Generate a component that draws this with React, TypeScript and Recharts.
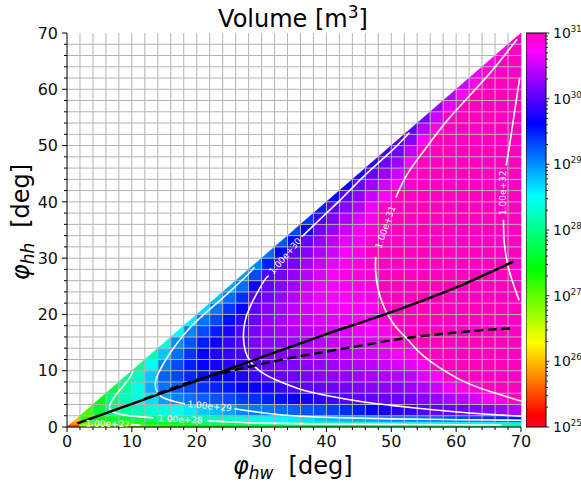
import React from 'react';
import {
  ComposedChart,
  XAxis,
  YAxis,
  Line,
  Scatter,
  ReferenceArea,
  ReferenceLine
} from 'recharts';

const FONT = '"DejaVu Sans", sans-serif';

// axis ticks (deg) - every 2 deg minor, every 10 deg major
const degTicks = [0, 2, 4, 6, 8, 10, 12, 14, 16, 18, 20, 22, 24, 26, 28, 30, 32, 34, 36, 38, 40, 42, 44, 46, 48, 50, 52, 54, 56, 58, 60, 62, 64, 66, 68, 70];
const gridLines = [2, 4, 6, 8, 10, 12, 14, 16, 18, 20, 22, 24, 26, 28, 30, 32, 34, 36, 38, 40, 42, 44, 46, 48, 50, 52, 54, 56, 58, 60, 62, 64, 66, 68];

// colorbar ticks : decades of the log norm (exponents) + minor mantissas
const cbExponents = [25, 26, 27, 28, 29, 30, 31];
const cbMinorMant = [2, 3, 4, 5, 6, 7, 8, 9];

// heat map cells : column edges (phi_hw) and row edges (phi_hh)
const colEdges = degTicks;
const rowEdges = [0, 0.5, 1, 2, 4, 6, 8, 10, 12, 14, 16, 18, 20, 22, 24, 26, 28, 30, 32, 34, 36, 38, 40, 42, 44, 46, 48, 50, 52, 54, 56, 58, 60, 62, 64, 66, 68, 70];

// log10(volume) per row, each row ends at phi_hw = 70
const logVolume: number[][] = [
  [25.5, 26.6, 26.8, 26.85, 26.9, 26.98, 27.1, 27.2, 27.25, 27.3, 27.35, 27.4, 27.45, 27.5, 27.55, 27.6, 27.65, 27.7, 27.72, 27.76, 27.78, 27.8, 27.82, 27.84, 27.85, 27.87, 27.88, 27.9, 27.9, 27.92, 27.93, 27.95, 27.97, 28.0, 28.03],
  [25.8, 27.0, 27.15, 27.2, 27.2, 27.25, 27.45, 27.5, 27.53, 27.65, 27.75, 27.8, 27.85, 27.9, 28.03, 28.07, 28.1, 28.12, 28.15, 28.18, 28.2, 28.22, 28.25, 28.27, 28.3, 28.33, 28.35, 28.37, 28.38, 28.4, 28.42, 28.45, 28.5, 28.55, 28.6],
  [26.0, 27.2, 27.45, 27.55, 27.6, 27.75, 27.9, 27.97, 28.03, 28.08, 28.15, 28.2, 28.25, 28.35, 28.42, 28.48, 28.55, 28.6, 28.65, 28.74, 28.8, 28.85, 28.9, 28.95, 29.05, 29.07, 29.1, 29.15, 29.2, 29.25, 29.3, 29.35, 29.4, 29.45, 29.5],
  [27.1, 27.65, 28.0, 28.1, 28.2, 28.35, 28.38, 28.5, 28.6, 28.73, 28.8, 28.9, 29.03, 29.1, 29.12, 29.15, 29.2, 29.25, 29.3, 29.35, 29.42, 29.5, 29.6, 29.72, 29.82, 29.87, 29.97, 30.03, 30.08, 30.1, 30.15, 30.2, 30.3, 30.4],
  [27.45, 27.95, 28.23, 28.42, 28.65, 28.92, 29.05, 29.12, 29.2, 29.25, 29.3, 29.38, 29.42, 29.48, 29.55, 29.62, 29.7, 29.8, 29.9, 29.98, 30.04, 30.06, 30.08, 30.1, 30.12, 30.2, 30.3, 30.4, 30.45, 30.55, 30.7, 30.85, 31.03],
  [27.75, 28.1, 28.42, 28.85, 29.12, 29.22, 29.32, 29.42, 29.47, 29.52, 29.6, 29.65, 29.72, 29.85, 29.97, 30.04, 30.07, 30.1, 30.13, 30.18, 30.22, 30.25, 30.25, 30.3, 30.4, 30.5, 30.65, 30.8, 30.9, 31.05, 31.2, 31.3],
  [27.95, 28.25, 28.75, 29.2, 29.33, 29.45, 29.55, 29.62, 29.68, 29.75, 29.85, 29.98, 30.05, 30.1, 30.15, 30.2, 30.23, 30.26, 30.3, 30.34, 30.38, 30.4, 30.45, 30.6, 30.73, 30.95, 31.05, 31.1, 31.25, 31.4, 31.5],
  [28.05, 28.45, 29.07, 29.3, 29.5, 29.63, 29.72, 29.8, 29.87, 30.01, 30.08, 30.13, 30.18, 30.23, 30.28, 30.32, 30.36, 30.4, 30.44, 30.5, 30.55, 30.62, 30.8, 30.97, 31.1, 31.2, 31.25, 31.4, 31.55, 31.65],
  [28.2, 28.75, 29.15, 29.4, 29.62, 29.75, 29.86, 29.95, 30.1, 30.16, 30.2, 30.26, 30.3, 30.36, 30.4, 30.44, 30.48, 30.52, 30.6, 30.7, 30.8, 31.0, 31.1, 31.2, 31.3, 31.4, 31.5, 31.65, 31.75],
  [28.35, 29.0, 29.25, 29.5, 29.67, 29.85, 29.98, 30.15, 30.22, 30.27, 30.33, 30.37, 30.43, 30.47, 30.52, 30.56, 30.6, 30.7, 30.85, 31.0, 31.15, 31.2, 31.3, 31.4, 31.5, 31.6, 31.75, 31.85],
  [28.5, 29.05, 29.3, 29.5, 29.75, 29.95, 30.15, 30.25, 30.32, 30.39, 30.44, 30.5, 30.54, 30.59, 30.63, 30.67, 30.8, 30.99, 31.1, 31.25, 31.3, 31.4, 31.5, 31.6, 31.7, 31.85, 31.92],
  [28.6, 29.12, 29.3, 29.55, 29.82, 30.1, 30.25, 30.35, 30.44, 30.5, 30.56, 30.6, 30.65, 30.69, 30.73, 30.9, 31.05, 31.2, 31.35, 31.4, 31.5, 31.6, 31.7, 31.8, 31.92, 31.97],
  [28.7, 29.1, 29.38, 29.65, 30.05, 30.2, 30.33, 30.45, 30.54, 30.61, 30.66, 30.7, 30.74, 30.78, 30.98, 31.1, 31.3, 31.45, 31.5, 31.6, 31.7, 31.8, 31.88, 31.97, 32.02],
  [28.8, 29.15, 29.42, 30.0, 30.13, 30.27, 30.4, 30.55, 30.65, 30.7, 30.75, 30.79, 30.83, 31.03, 31.15, 31.35, 31.5, 31.55, 31.65, 31.75, 31.85, 31.93, 32.0, 32.06],
  [28.9, 29.15, 29.7, 30.05, 30.2, 30.33, 30.5, 30.63, 30.72, 30.78, 30.83, 30.88, 31.08, 31.2, 31.4, 31.5, 31.6, 31.7, 31.8, 31.9, 31.96, 32.02, 32.09],
  [28.95, 29.3, 29.97, 30.12, 30.25, 30.42, 30.56, 30.7, 30.8, 30.86, 30.92, 31.1, 31.2, 31.4, 31.5, 31.6, 31.7, 31.8, 31.9, 31.97, 32.02, 32.1],
  [29.05, 29.5, 30.02, 30.15, 30.32, 30.47, 30.63, 30.78, 30.87, 30.96, 31.1, 31.2, 31.4, 31.5, 31.6, 31.7, 31.8, 31.9, 31.96, 32.02, 32.1],
  [29.15, 29.6, 30.04, 30.2, 30.37, 30.53, 30.72, 30.85, 30.98, 31.1, 31.2, 31.35, 31.45, 31.55, 31.65, 31.75, 31.85, 31.93, 32.0, 32.08],
  [29.25, 29.65, 30.06, 30.25, 30.42, 30.62, 30.78, 30.96, 31.08, 31.15, 31.3, 31.4, 31.5, 31.6, 31.7, 31.8, 31.88, 31.97, 32.05],
  [29.3, 29.7, 30.12, 30.3, 30.5, 30.68, 30.9, 31.05, 31.1, 31.2, 31.35, 31.45, 31.55, 31.65, 31.75, 31.83, 31.93, 32.02],
  [29.4, 29.9, 30.17, 30.37, 30.55, 30.8, 31.02, 31.07, 31.15, 31.3, 31.4, 31.5, 31.6, 31.7, 31.78, 31.88, 31.98],
  [29.48, 30.02, 30.22, 30.4, 30.66, 30.98, 31.04, 31.08, 31.25, 31.35, 31.45, 31.55, 31.65, 31.72, 31.83, 31.93],
  [29.6, 30.05, 30.24, 30.5, 30.75, 31.01, 31.05, 31.2, 31.3, 31.4, 31.5, 31.6, 31.66, 31.77, 31.88],
  [29.7, 30.06, 30.32, 30.53, 30.75, 31.02, 31.15, 31.25, 31.35, 31.45, 31.55, 31.6, 31.71, 31.82],
  [29.75, 30.05, 30.3, 30.5, 30.95, 31.1, 31.2, 31.3, 31.4, 31.5, 31.54, 31.65, 31.76],
  [29.8, 30.08, 30.3, 30.7, 31.05, 31.15, 31.25, 31.35, 31.45, 31.48, 31.59, 31.7],
  [29.85, 30.1, 30.45, 30.99, 31.1, 31.2, 31.3, 31.4, 31.42, 31.53, 31.64],
  [29.95, 30.2, 30.7, 31.03, 31.15, 31.25, 31.35, 31.36, 31.47, 31.58],
  [30.02, 30.4, 30.85, 31.08, 31.2, 31.3, 31.3, 31.41, 31.52],
  [30.15, 30.5, 30.95, 31.1, 31.25, 31.24, 31.35, 31.46],
  [30.3, 30.63, 31.0, 31.2, 31.18, 31.29, 31.4],
  [30.4, 30.72, 31.05, 31.12, 31.23, 31.34],
  [30.5, 30.85, 31.1, 31.17, 31.28],
  [30.65, 30.95, 31.1, 31.2],
  [30.78, 31.0, 31.12],
  [30.9, 31.06],
  [30.98]
];

// contour lines (phi_hw, phi_hh), split where the inline labels sit
const contour27 = [[9.9, 0.42], [10.6, 0.38], [11.3, 0.33]];
const contour28a = [[10.2, 9.9], [9.5, 8.5], [8.6, 7.2], [7.6, 5.8], [6.9, 4.6], [6.55, 3.6], [6.8, 2.9], [7.6, 2.45], [9.0, 2.1], [11.0, 1.85], [13.3, 1.62]];
const contour28b = [[21.6, 1.08], [26, 0.86], [30.4, 0.68], [40, 0.53], [50, 0.46], [60, 0.41], [67, 0.36]];
const contour29a = [[28.9, 28.4], [27.8, 27.0], [25.8, 24.8], [23.7, 22.6], [21.3, 20.2], [19.1, 17.8], [17.0, 14.9], [15.2, 11.9], [14.0, 9.3], [13.6, 7.6], [14.0, 6.0], [15.2, 5.0], [17.0, 4.4], [18.2, 4.1]];
const contour29b = [[25.8, 3.25], [30.4, 2.5], [36, 1.9], [42, 1.65], [50, 1.45], [60, 1.3], [70, 1.2]];
const contour30a = [[52.8, 52.3], [50, 49.0], [46, 44.8], [42.1, 40.3], [39, 36.9], [36.2, 33.8]];
const contour30b = [[31.1, 26.9], [30.2, 25.6], [28.2, 21.3], [27.4, 18.5], [27.2, 16.0], [27.5, 13.5], [28.3, 11.6], [29.8, 9.9], [32, 8.5], [35.5, 6.9], [40, 5.6], [46, 4.4], [50, 3.85], [56, 3.1], [62, 2.5], [70, 1.9]];
const contour31a = [[69.4, 68.9], [64.7, 62.2], [59.1, 55.1], [55.5, 49.8], [52.6, 45.2], [50.7, 40.8]];
const contour31b = [[47.6, 30.2], [47.6, 27.5], [48.3, 23.1], [50.3, 18.4], [52.5, 15.6], [55, 12.6], [60.3, 8.6], [65, 6.4], [70, 4.6]];
const contour32a = [[69.8, 62], [69.0, 56], [68.3, 50.5], [67.7, 46.5]];
const contour32b = [[67.3, 36.8], [67.4, 33], [67.8, 29.7], [68.5, 26.5], [69.7, 22.5]];

const contourLabels = [
  { level: 27, x: 6.3, y: 0.55 },
  { level: 28, x: 17.5, y: 1.33 },
  { level: 29, x: 22.0, y: 3.7 },
  { level: 30, x: 33.65, y: 30.35 },
  { level: 31, x: 49.1, y: 35.5 },
  { level: 32, x: 67.3, y: 41.6 }
];
const labelAngle: Record<number, number> = { 27: 1, 28: 3, 29: 5.5, 30: -49.6, 31: -71, 32: -90 };

// black curves
const solidCurve = [[1.6, 0.65], [10, 4.1], [20, 8.2], [30, 12.4], [40, 16.5], [50, 20.4], [60, 24.8], [68.8, 29.4]];
const dashedCurve = [[12, 5.0], [20, 8.35], [25, 9.9], [30, 11.2], [35, 12.4], [40, 13.4], [45, 14.4], [50, 15.4], [55, 16.2], [60, 16.8], [65, 17.3], [68.3, 17.5]];

// gist_rainbow colormap anchors
const cmap: [number, number[]][] = [
  [0, [255, 0, 41]],
  [0.03, [255, 0, 0]],
  [0.215, [255, 255, 0]],
  [0.4, [0, 255, 0]],
  [0.586, [0, 255, 255]],
  [0.77, [0, 0, 255]],
  [0.954, [255, 0, 255]],
  [1, [255, 0, 191]]
];
const rgb = (c: number[]) => `rgb(${c.map(Math.round).join(',')})`;

function colorFor(logv: number) {
  const t = Math.max(0, Math.min(1, (logv - 25) / 6));
  for (let i = 1; i < cmap.length; i++) {
    if (t <= cmap[i][0]) {
      const [t0, c0] = cmap[i - 1];
      const [t1, c1] = cmap[i];
      const f = (t - t0) / (t1 - t0);
      return rgb(c0.map((v, k) => v + f * (c1[k] - v)));
    }
  }
  return rgb(cmap[cmap.length - 1][1]);
}

// keep the part of a cell below the diagonal phi_hh <= phi_hw
function clipBelowDiagonal(pts: number[][]) {
  const out: number[][] = [];
  for (let i = 0; i < pts.length; i++) {
    const a = pts[i];
    const b = pts[(i + 1) % pts.length];
    const da = a[0] - a[1];
    const db = b[0] - b[1];
    if (da >= 0) out.push(a);
    if ((da >= 0) !== (db >= 0)) {
      const t = da / (da - db);
      out.push([a[0] + t * (b[0] - a[0]), a[1] + t * (b[1] - a[1])]);
    }
  }
  return out;
}

const cellShape = (x1: number, x2: number, y1: number, y2: number, fill: string) => (p: any) => {
  const px = (v: number) => p.x + ((v - x1) / (x2 - x1)) * p.width;
  const py = (v: number) => p.y + ((y2 - v) / (y2 - y1)) * p.height;
  let pts = [[x1, y1], [x2, y1], [x2, y2], [x1, y2]];
  if (y2 > x1) pts = clipBelowDiagonal(pts);
  if (pts.length < 3) return <g />;
  return (
    <polygon
      points={pts.map(([a, b]) => `${px(a)},${py(b)}`).join(' ')}
      fill={fill}
      stroke={fill}
      strokeWidth={0.6}
    />
  );
};

const cells: any[] = [];
logVolume.forEach((row, r) => {
  const start = colEdges.length - 1 - row.length;
  row.forEach((v, k) => {
    const c = start + k;
    cells.push({ x1: colEdges[c], x2: colEdges[c + 1], y1: rowEdges[r], y2: rowEdges[r + 1], v });
  });
});

const toPts = (arr: number[][]) => arr.map(([x, y]) => ({ x, y }));

const contourPieces = [contour27, contour28a, contour28b, contour29a, contour29b, contour30a, contour30b, contour31a, contour31b, contour32a, contour32b];

const XTick = (props: any) => {
  const { x, y, payload } = props;
  const v = payload.value;
  const major = v % 10 === 0;
  const y0 = y - 8;
  return (
    <g>
      <line x1={x} x2={x} y1={y0} y2={y0 + (major ? 5 : 3)} stroke="#000" strokeWidth={1} />
      {major && (
        <text x={x} y={y} dy="0.73em" textAnchor="middle" fontSize={16} fontFamily={FONT} fill="#111">
          {v}
        </text>
      )}
    </g>
  );
};

const YTick = (props: any) => {
  const { x, y, payload } = props;
  const v = payload.value;
  const major = v % 10 === 0;
  const x0 = x + 9;
  return (
    <g>
      <line x1={x0} x2={x0 - (major ? 5 : 3)} y1={y} y2={y} stroke="#000" strokeWidth={1} />
      {major && (
        <text x={x} y={y} dy="0.36em" textAnchor="end" fontSize={16} fontFamily={FONT} fill="#111">
          {v}
        </text>
      )}
    </g>
  );
};

// colorbar ticks on an exponent axis
const cbTicks = cbExponents.flatMap((e, i) =>
  i < cbExponents.length - 1 ? [e, ...cbMinorMant.map((k) => e + Math.log10(k))] : [e]
);
const cbData = cbExponents.map((e) => ({ x: 0.5, v: e }));

const CbTick = (props: any) => {
  const { x, y, payload } = props;
  const lg = payload.value;
  const major = Math.abs(lg - Math.round(lg)) < 1e-6;
  const x0 = x - 7;
  return (
    <g>
      <line x1={x0} x2={x0 + (major ? 3.5 : 2)} y1={y} y2={y} stroke="#000" strokeWidth={0.8} />
      {major && (
        <text x={x} y={y} dy="0.36em" fontSize={14} fontFamily={FONT} fill="#111">
          10
          <tspan dy={-6} fontSize={8.5}>{Math.round(lg)}</tspan>
        </text>
      )}
    </g>
  );
};

const colorbarShape = (p: any) => (
  <g>
    <defs>
      <linearGradient id="cbarGrad" x1="0" y1="0" x2="0" y2="1">
        {[...cmap].reverse().map(([t, c]) => (
          <stop key={t} offset={1 - t} stopColor={rgb(c)} />
        ))}
      </linearGradient>
    </defs>
    <rect x={p.x} y={p.y} width={p.width} height={p.height} fill="url(#cbarGrad)" stroke="#000" strokeWidth={1} />
  </g>
);

const renderLabel = (p: any) => {
  const lvl = p.payload.level;
  return (
    <text
      x={p.cx}
      y={p.cy}
      transform={`rotate(${labelAngle[lvl]} ${p.cx} ${p.cy})`}
      textAnchor="middle"
      dominantBaseline="central"
      fontSize={9}
      fontFamily={FONT}
      fill="#fff"
    >
      {`1.00e+${lvl}`}
    </text>
  );
};

export default function App() {
  return (
    <div style={{ position: 'absolute', left: 0, top: 0, width: 581, height: 489, background: '#fff', overflow: 'hidden' }}>
      <div style={{ position: 'absolute', left: 0, top: 0 }}>
        <ComposedChart width={581} height={489} margin={{ top: 33, right: 60, bottom: 32, left: 17 }}>
          <XAxis
            dataKey="x"
            type="number"
            domain={[0, 70]}
            ticks={degTicks}
            interval={0}
            allowDataOverflow
            tickSize={5}
            tickMargin={3}
            tickLine={false}
            tick={<XTick />}
            height={30}
            stroke="#000"
          />
          <XAxis xAxisId="top" orientation="top" type="number" domain={[0, 70]} height={0} tick={false} tickLine={false} stroke="#000" />
          <YAxis
            dataKey="y"
            type="number"
            domain={[0, 70]}
            ticks={degTicks}
            interval={0}
            allowDataOverflow
            tickSize={5}
            tickMargin={4}
            tickLine={false}
            tick={<YTick />}
            width={50}
            stroke="#000"
          />
          <YAxis yAxisId="right" orientation="right" type="number" domain={[0, 70]} width={0} tick={false} tickLine={false} stroke="#000" />

          {cells.map((c, i) => (
            <ReferenceArea
              key={`c${i}`}
              x1={c.x1}
              x2={c.x2}
              y1={c.y1}
              y2={c.y2}
              shape={cellShape(c.x1, c.x2, c.y1, c.y2, colorFor(c.v))}
            />
          ))}

          {gridLines.map((g) => (
            <ReferenceLine key={`gx${g}`} x={g} stroke="#b4b4b4" strokeWidth={1} />
          ))}
          {gridLines.map((g) => (
            <ReferenceLine key={`gy${g}`} y={g} stroke="#b4b4b4" strokeWidth={1} />
          ))}

          {contourPieces.map((piece, i) => (
            <Line
              key={`ct${i}`}
              data={toPts(piece)}
              dataKey="y"
              type="natural"
              stroke="#fff"
              strokeWidth={1.6}
              dot={false}
              activeDot={false}
              isAnimationActive={false}
            />
          ))}

          <Scatter data={contourLabels} shape={renderLabel} isAnimationActive={false} />

          <Line
            data={toPts(dashedCurve)}
            dataKey="y"
            type="monotone"
            stroke="#000"
            strokeWidth={2.5}
            strokeDasharray="9 4.5"
            dot={false}
            activeDot={false}
            isAnimationActive={false}
          />
          <Line
            data={toPts(solidCurve)}
            dataKey="y"
            type="monotone"
            stroke="#000"
            strokeWidth={2.5}
            dot={false}
            activeDot={false}
            isAnimationActive={false}
          />
        </ComposedChart>
      </div>

      <div style={{ position: 'absolute', left: 526, top: 0 }}>
        <ComposedChart width={60} height={489} data={cbData} margin={{ top: 33, right: 0, bottom: 62, left: 0 }}>
          <XAxis type="number" dataKey="x" domain={[0, 1]} height={0} tick={false} tickLine={false} axisLine={false} />
          <YAxis
            type="number"
            dataKey="v"
            orientation="right"
            domain={[25, 31]}
            ticks={cbTicks}
            interval={0}
            allowDataOverflow
            width={40}
            tickSize={4}
            tickMargin={3}
            tickLine={false}
            axisLine={false}
            tick={<CbTick />}
          />
          <ReferenceArea x1={0} x2={1} y1={25} y2={31} shape={colorbarShape} ifOverflow="visible" />
          <Line dataKey="v" stroke="none" dot={false} activeDot={false} isAnimationActive={false} />
        </ComposedChart>
      </div>

      <svg width={581} height={489} style={{ position: 'absolute', left: 0, top: 0, pointerEvents: 'none' }}>
        <text x={293} y={27} textAnchor="middle" fontSize={24} fontFamily={FONT} fill="#000">
          Volume [m
          <tspan dy={-9} fontSize={17}>3</tspan>
          <tspan dy={9}>]</tspan>
        </text>
        <text x={233} y={474} fontSize={24} fontFamily={FONT} fill="#000">
          <tspan fontStyle="italic">φ</tspan>
          <tspan fontStyle="italic" fontSize={17} dy={5}>hw</tspan>
          <tspan dx={15} dy={-5}>[deg]</tspan>
        </text>
        <text transform="translate(29,222) rotate(-90)" textAnchor="middle" fontSize={24} fontFamily={FONT} fill="#000">
          <tspan fontStyle="italic">φ</tspan>
          <tspan fontStyle="italic" fontSize={17} dy={5}>hh</tspan>
          <tspan dx={15} dy={-5}>[deg]</tspan>
        </text>
      </svg>
    </div>
  );
}
